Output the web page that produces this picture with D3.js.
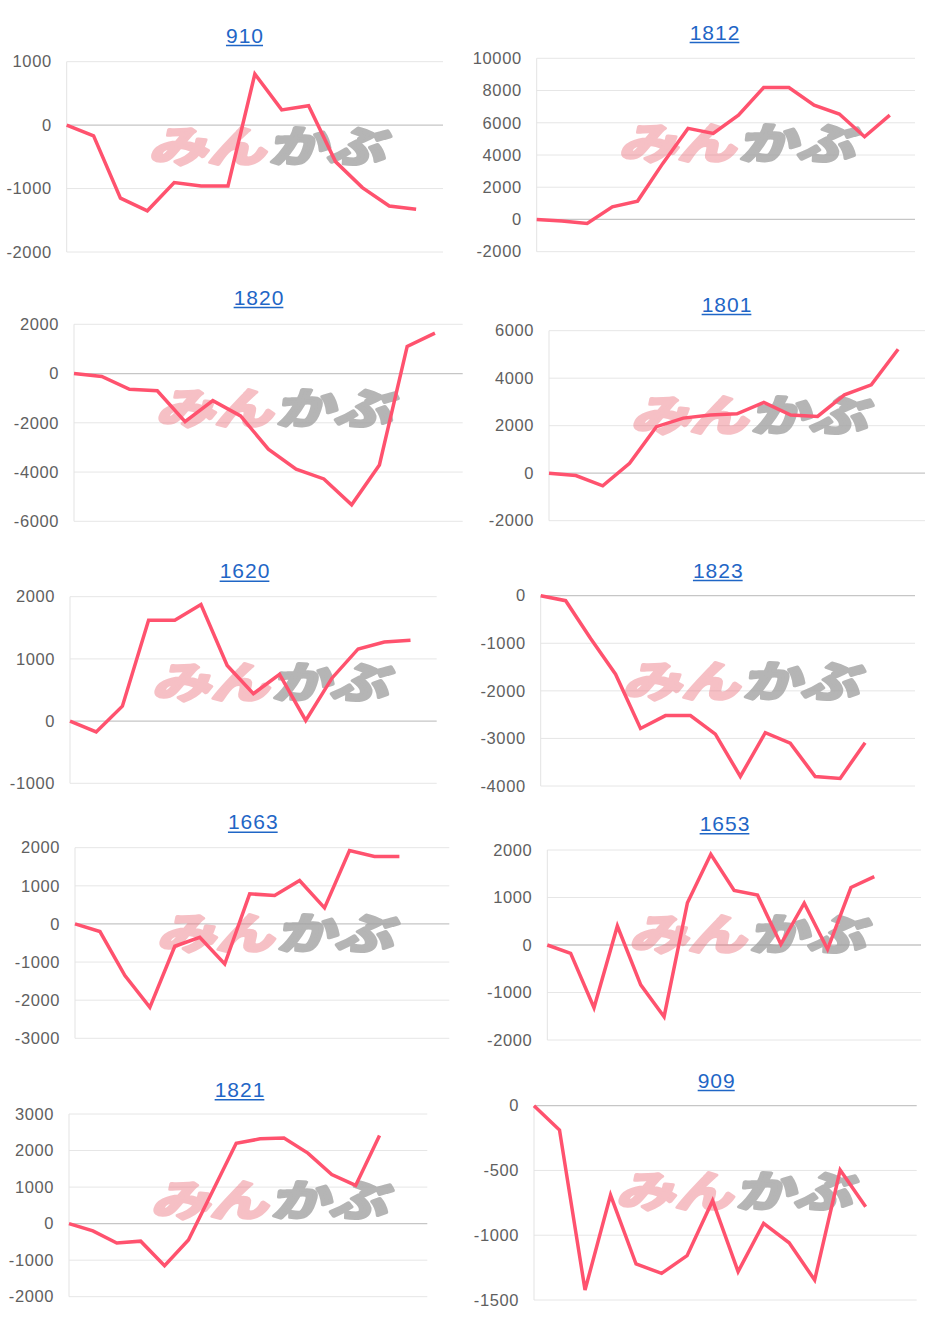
<!DOCTYPE html>
<html>
<head>
<meta charset="utf-8">
<script src="https://cdn.jsdelivr.net/npm/d3@7"></script>
<style>
  html, body { margin: 0; padding: 0; background: #ffffff; }
  svg { display: block; }
</style>
</head>
<body>
<svg id="chart" width="940" height="1318"></svg>
<script>
// ---- data ----
const titles = ["910", "1812", "1820", "1801", "1620", "1823", "1663", "1653", "1821", "909"];

const values910  = [0, -170, -1150, -1350, -905, -960, -960, 805, 240, 305, -575, -985, -1275, -1325];
const values1812 = [0, -100, -250, 780, 1140, 3480, 5650, 5340, 6470, 8190, 8190, 7090, 6540, 5130, 6470];
const values1820 = [0, -120, -640, -700, -1950, -1100, -1720, -3070, -3880, -4280, -5330, -3710, 1100, 1640];
const values1801 = [0, -100, -530, 420, 1960, 2320, 2450, 2500, 2980, 2450, 2390, 3300, 3720, 5220];
const values1620 = [0, -175, 240, 1620, 1620, 1875, 895, 440, 750, 10, 690, 1160, 1270, 1300];
const values1823 = [0, -105, -900, -1650, -2790, -2520, -2520, -2910, -3800, -2880, -3100, -3800, -3840, -3090];
const values1663 = [0, -200, -1355, -2190, -585, -350, -1050, 790, 745, 1140, 420, 1925, 1770, 1770];
const values1653 = [0, -175, -1320, 400, -840, -1510, 890, 1910, 1150, 1050, 15, 880, -90, 1210, 1440];
const values1821 = [0, -200, -530, -480, -1150, -450, 870, 2200, 2320, 2345, 1930, 1345, 1045, 2410];
const values909  = [0, -188, -1423, -690, -1222, -1294, -1158, -733, -1281, -908, -1058, -1346, -497, -780];

const series = [values910, values1812, values1820, values1801, values1620,
                values1823, values1663, values1653, values1821, values909];

// number of periods on each x axis (the last slots have no data yet)
const periods = [15, 16, 15, 15, 15, 16, 16, 17, 16, 16];

const ticks910  = [-2000, -1000, 0, 1000];
const ticks1812 = [-2000, 0, 2000, 4000, 6000, 8000, 10000];
const ticks1820 = [-6000, -4000, -2000, 0, 2000];
const ticks1801 = [-2000, 0, 2000, 4000, 6000];
const ticks1620 = [-1000, 0, 1000, 2000];
const ticks1823 = [-4000, -3000, -2000, -1000, 0];
const ticks1663 = [-3000, -2000, -1000, 0, 1000, 2000];
const ticks1653 = [-2000, -1000, 0, 1000, 2000];
const ticks1821 = [-2000, -1000, 0, 1000, 2000, 3000];
const ticks909  = [-1500, -1000, -500, 0];

const tickSets = [ticks910, ticks1812, ticks1820, ticks1801, ticks1620,
                  ticks1823, ticks1663, ticks1653, ticks1821, ticks909];

// ---- layout (pixels) ----
const layout = [
  {tx: 245,   ty: 35,     x0: 66.7,  x1: 443,   y0: 61.7,   y1: 252},
  {tx: 715,   ty: 32,     x0: 536.7, x1: 915,   y0: 58.3,   y1: 251.7},
  {tx: 259,   ty: 297,    x0: 74,    x1: 462.7, y0: 324.3,  y1: 521.3},
  {tx: 727,   ty: 304,    x0: 549,   x1: 925,   y0: 330.7,  y1: 520.7},
  {tx: 245,   ty: 570.7,  x0: 70,    x1: 436.7, y0: 596.7,  y1: 783.3},
  {tx: 718.3, ty: 570,    x0: 540.7, x1: 915,   y0: 595.7,  y1: 786},
  {tx: 253.3, ty: 821.7,  x0: 75,    x1: 449.3, y0: 847.7,  y1: 1038.3},
  {tx: 725,   ty: 823.3,  x0: 547.3, x1: 921,   y0: 850,    y1: 1040},
  {tx: 240,   ty: 1089.3, x0: 69,    x1: 427.3, y0: 1114,   y1: 1296.7},
  {tx: 716.7, ty: 1080,   x0: 534,   x1: 916.7, y0: 1105.7, y1: 1300}
];

const LINE_COLOR = "#ff526e";
const FONT = "'Liberation Sans', Arial, Helvetica, sans-serif";
const svg = d3.select("#chart");

titles.forEach((title, i) => {
  const L = layout[i];
  const data = series[i];
  const tks = tickSets[i];
  const g = svg.append("g").attr("class", "panel");

  const x = d3.scaleLinear().domain([0, periods[i] - 1]).range([L.x0, L.x1]);
  const y = d3.scaleLinear().domain(d3.extent(tks)).range([L.y1, L.y0]);

  // title
  const t = g.append("text")
    .attr("x", L.tx).attr("y", L.ty)
    .attr("text-anchor", "middle")
    .attr("dominant-baseline", "central")
    .attr("font-family", FONT)
    .attr("font-size", 21)
    .attr("letter-spacing", "1px")
    .attr("fill", "#1f66c6")
    .text(title);
  const bb = t.node().getBBox();
  g.append("line")
    .attr("x1", bb.x).attr("x2", bb.x + bb.width - 1)
    .attr("y1", L.ty + 10.5).attr("y2", L.ty + 10.5)
    .attr("stroke", "#1f66c6").attr("stroke-width", 1.5);

  // gridlines
  g.append("g").selectAll("line").data(tks).join("line")
    .attr("x1", L.x0).attr("x2", L.x1)
    .attr("y1", d => y(d)).attr("y2", d => y(d))
    .attr("stroke", d => d === 0 ? "#c6c6c6" : "#e6e6e6")
    .attr("stroke-width", d => d === 0 ? 1.3 : 1);
  g.append("line")
    .attr("x1", L.x0).attr("x2", L.x0)
    .attr("y1", L.y0).attr("y2", L.y1)
    .attr("stroke", "#e3e3e3").attr("stroke-width", 1);

  // y axis via d3.axisLeft
  const axis = d3.axisLeft(y).tickValues(tks).tickSize(0).tickPadding(15).tickFormat(d => String(d));
  const ag = g.append("g").attr("transform", `translate(${L.x0},0)`).call(axis);
  ag.select(".domain").remove();
  ag.selectAll("text")
    .attr("font-family", FONT)
    .attr("font-size", 16.5)
    .attr("letter-spacing", "0.6px")
    .attr("fill", "#5f5f5f");

  // watermark
  const wm = g.append("g")
    .attr("transform", `translate(${L.x0 + 82},${L.ty + 127}) skewX(-14) scale(1.3,0.95)`)
    .attr("font-family", "'Noto Sans CJK JP', sans-serif")
    .attr("font-weight", "bold")
    .attr("font-size", 45);
  wm.append("text").attr("x", 0).attr("y", 0)
    .attr("fill", "#ec7480").attr("stroke", "#ec7480").attr("stroke-width", 3.5)
    .attr("stroke-linejoin", "round").attr("opacity", 0.45).text("みん");
  wm.append("text").attr("x", 92).attr("y", 0)
    .attr("fill", "#a3a3a3").attr("stroke", "#a3a3a3").attr("stroke-width", 3.5)
    .attr("stroke-linejoin", "round").attr("opacity", 0.8).text("かぶ");

  // line
  const line = d3.line().x((d, j) => x(j)).y(d => y(d));
  g.append("path")
    .datum(data)
    .attr("d", line)
    .attr("fill", "none")
    .attr("stroke", LINE_COLOR)
    .attr("stroke-width", 3.5)
    .attr("stroke-linejoin", "miter")
    .attr("stroke-linecap", "butt");
});
</script>
</body>
</html>
